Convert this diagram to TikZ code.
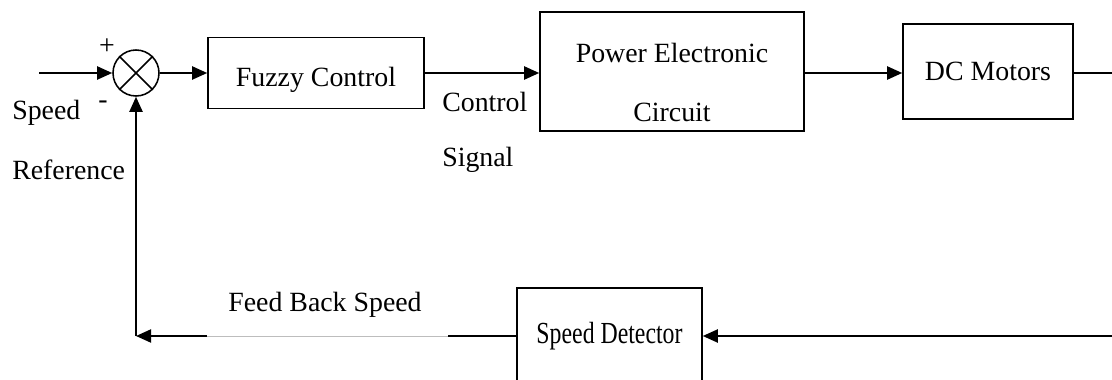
\documentclass[tikz,border=0pt]{standalone}
\usepackage{fontspec}
\setmainfont{Liberation Serif}
\usepackage{tikz}
\usetikzlibrary{arrows.meta,positioning,calc}
\definecolor{ink}{HTML}{000000}
\definecolor{linegray}{HTML}{BDBDBD}
\tikzset{
  >={Triangle[length=3.8mm,width=3.3mm]},
  block/.style={draw=ink, line width=1.1pt, fill=white, inner sep=0pt, text=ink},
  flow/.style={->, line width=1.4pt, color=ink},
  wire/.style={line width=1.4pt, color=ink},
  lbl/.style={inner sep=0pt, text=ink}
}
\begin{document}
\begin{tikzpicture}[x=1cm,y=1cm,font=\fontsize{19.8}{24}\selectfont]
  \useasboundingbox (0,0) rectangle (27.8,-9.5);
  \clip (0,0) rectangle (27.8,-9.5);

  % forward path
  \node[block,circle,minimum size=1.15cm] (sum) at (3.4,-1.825) {};
  \draw[wire,line width=1.1pt] (sum.north west) -- (sum.south east) (sum.north east) -- (sum.south west);
  \node[block,minimum width=5.4cm,minimum height=1.775cm] (fuzzy) at (7.9,-1.825) {};
  \node[lbl] (fuzzytxt) at ($(fuzzy)+(0,-0.17)$) {Fuzzy Control};
  \node[block,minimum width=6.6cm,minimum height=2.975cm] (pec) at (16.8,-1.7875) {};
  \node[lbl,align=center] (pectxt) at ($(pec)+(0,-0.275)$) {Power Electronic\\[17.9pt]Circuit};
  \node[block,minimum width=4.25cm,minimum height=2.375cm] (dc) at (24.7,-1.7875) {DC Motors};

  \coordinate (in) at (0.975,-1.825);
  \coordinate (outr) at (28,-1.825);
  \draw[flow] (in) -- (sum.west);
  \draw[flow] (sum.east) -- (fuzzy.west);
  \draw[flow] (fuzzy.east) -- (fuzzy.east -| pec.west);
  \draw[flow] (pec.east |- sum) -- (dc.west |- sum);
  \draw[wire] (dc.east |- sum) -- (outr);

  % feedback path
  \node[block,minimum width=4.625cm,minimum height=2.4cm] (sd) at (15.2375,-8.4)
    {\raisebox{0.1cm}{\scalebox{0.855}[1.1]{Speed Detector}}};
  \coordinate (outb) at (28,-8.4);
  \coordinate (fbk) at (sum |- sd.west);
  \draw[flow] (outb) -- (sd.east);
  \draw[flow] (sd.west) -- (fbk);
  \draw[flow] (fbk) -- (sum.south);
  \coordinate (g1) at (5.175,-8.4);
  \coordinate (g2) at (11.2,-8.4);
  \draw[white,line width=2pt] (g1) -- (g2);
  \draw[linegray,line width=.5pt] (g1) -- (g2);

  % labels
  \node[lbl] (plus) at (2.675,-1.175) {+};
  \node[lbl] (minus) at (2.575,-2.625) {-};
  \node[lbl,anchor=west] (spd) at (0.3,-2.825) {Speed};
  \node[lbl,anchor=west] (ref) at (0.3,-4.25) {Reference};
  \node[lbl,anchor=west] (ctl) at (11.05,-2.55) {Control};
  \node[lbl,anchor=west] (sig) at (11.05,-4.0) {Signal};
  \node[lbl] (fbs) at (8.125,-7.625) {Feed Back Speed};
\end{tikzpicture}
\end{document}
